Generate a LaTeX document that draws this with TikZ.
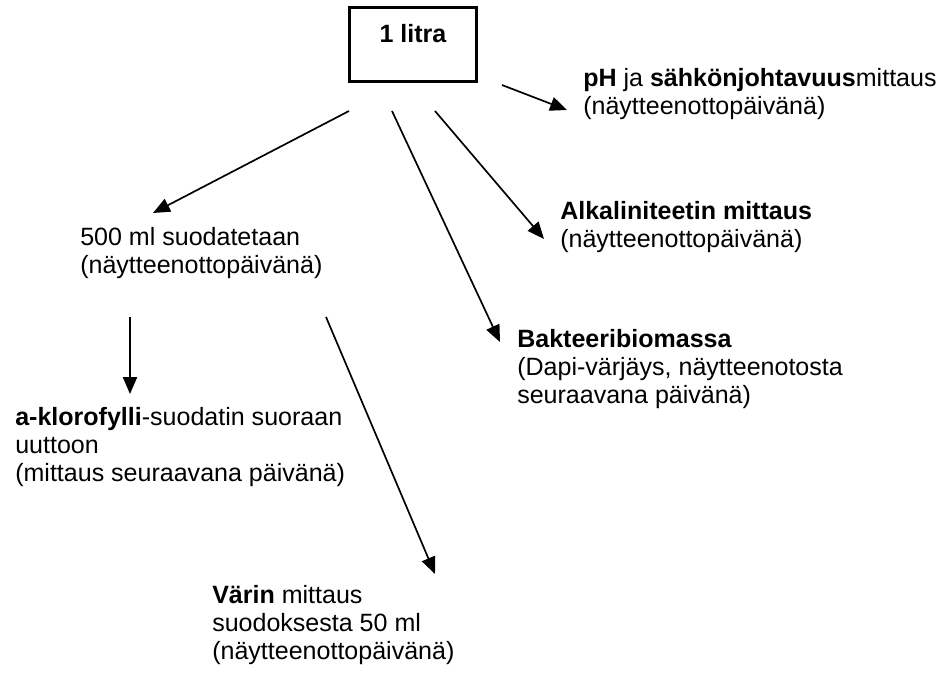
\documentclass[tikz,border=0pt]{standalone}
\usepackage{fontspec}
\setmainfont{Liberation Sans}
\usepackage{tikz}
\usetikzlibrary{arrows.meta}

\tikzset{
  lbl/.style={font=\fontsize{17.8}{19.9}\selectfont, align=left, inner sep=0pt, anchor=base west},
  arr/.style={-{Triangle[length=12pt,width=10pt]}, line width=1.2pt}
}

\begin{document}
\begin{tikzpicture}[x=0.025cm, y=-0.025cm]

    \useasboundingbox (0,0) rectangle (946,672);

    % The sample box
    \node[draw, line width=2.2pt, inner sep=0pt, minimum width=3.175cm, anchor=base,
          text height=0.86cm, text depth=0.9875cm,
          font=\fontsize{17.8}{19.9}\selectfont\bfseries] (litra) at (413,42) {1 litra};

    % Start points below the box
    \coordinate (S1) at (349,111);
    \coordinate (S2) at (392,111);
    \coordinate (S3) at (435,111);
    \coordinate (S4) at (502,85);

    % End points of the arrows
    \coordinate (E1) at (153,213);
    \coordinate (E2) at (500,342);
    \coordinate (E3) at (544,239);
    \coordinate (E4) at (567,110);

    % Start and end points below the filtering step
    \coordinate (S5) at (130,317);
    \coordinate (S6) at (326,317);
    \coordinate (E5) at (130,394);
    \coordinate (E6) at (435,574);

    % Texts (placed at the baseline of their last line)
    \node[lbl] (ph) at (583,114) {\textbf{pH} ja \textbf{sähkönjohtavuus}mittaus\\(näytteenottopäivänä)};
    \node[lbl] (alk) at (560,247) {\textbf{Alkaliniteetin mittaus}\\(näytteenottopäivänä)};
    \node[lbl] (bakt) at (517,403) {\textbf{Bakteeribiomassa}\\(Dapi-värjäys, näytteenotosta\\seuraavana päivänä)};
    \node[lbl] (suod) at (80,273) {500 ml suodatetaan\\(näytteenottopäivänä)};
    \node[lbl] (klor) at (15,481) {\textbf{a-klorofylli}-suodatin suoraan\\uuttoon\\(mittaus seuraavana päivänä)};
    \node[lbl] (varin) at (212,659) {\textbf{Värin} mittaus\\suodoksesta 50 ml\\(näytteenottopäivänä)};

    % Arrows
    \draw[arr] (S1) -- (E1);
    \draw[arr] (S2) -- (E2);
    \draw[arr] (S3) -- (E3);
    \draw[arr] (S4) -- (E4);
    \draw[arr] (S5) -- (E5);
    \draw[arr] (S6) -- (E6);

\end{tikzpicture}
\end{document}
